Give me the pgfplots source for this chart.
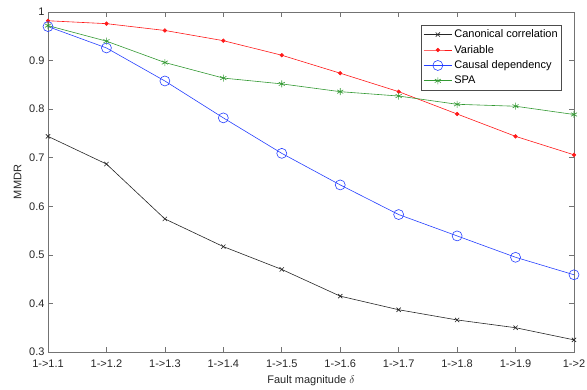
\documentclass[border=0pt]{standalone}
\usepackage{fontspec}
\setmainfont{Liberation Sans}
\usepackage{pgfplots}
\pgfplotsset{compat=1.18}
\definecolor{axgray}{gray}{0.45}
\definecolor{cgreen}{rgb}{0.2,0.6,0.2}
\definecolor{cblue}{rgb}{0.15,0.25,1}
\definecolor{cred}{rgb}{1,0.1,0.1}
\definecolor{cblack}{gray}{0.15}
\begin{document}
\begin{tikzpicture}
\useasboundingbox (-48pt,-37pt) rectangle (539pt,352pt);
\begin{axis}[
  scale only axis,
  width=526pt, height=340pt,
  at={(0,0)}, anchor=south west,
  xmin=0, xmax=9, ymin=0.3, ymax=1,
  xtick={0,...,9},
  xticklabels={1->1.1,1->1.2,1->1.3,1->1.4,1->1.5,1->1.6,1->1.7,1->1.8,1->1.9,1->2},
  ytick={0.3,0.4,0.5,0.6,0.7,0.8,0.9,1},
  yticklabels={0.3,0.4,0.5,0.6,0.7,0.8,0.9,1},
  tick align=inside,
  major tick length=5pt,
  axis line style={axgray, line width=0.6pt},
  every tick/.style={axgray, line width=0.6pt},
  tick label style={font=\fontsize{11}{13}\selectfont, text=black!85},
  xticklabel style={yshift=-4.5pt},
  label style={font=\fontsize{11}{13}\selectfont, text=black!85},
  xlabel={Fault magnitude $\delta$},
  ylabel={MMDR},
  xlabel style={yshift=-1pt},
  ylabel style={yshift=1pt},
  legend style={at={(0.9772,0.9618)}, anchor=north east, draw=black!70, line width=0.6pt,
    font=\fontsize{11}{13}\selectfont, inner xsep=2pt, inner ysep=2.5pt,
    row sep=2pt, cells={anchor=west}},
  legend image code/.code={
    \draw[mark repeat=2,mark phase=2] plot coordinates {(0cm,0cm) (0.5cm,0cm) (1cm,0cm)};
  },
]
\addplot[cblack, line width=0.6pt, mark=x, mark size=3pt, mark options={solid}] coordinates {
(0,0.744) (1,0.687) (2,0.574) (3,0.517) (4,0.470) (5,0.415) (6,0.387) (7,0.366) (8,0.350) (9,0.325)};
\addlegendentry{Canonical correlation}
\addplot[cred, line width=0.6pt, mark=*, mark size=1.8pt, mark options={solid, fill=cred}] coordinates {
(0,0.982) (1,0.976) (2,0.962) (3,0.941) (4,0.911) (5,0.874) (6,0.836) (7,0.790) (8,0.744) (9,0.706)};
\addlegendentry{Variable}
\addplot[cblue, line width=0.6pt, mark=o, mark size=5pt, mark options={solid}] coordinates {
(0,0.970) (1,0.926) (2,0.858) (3,0.782) (4,0.709) (5,0.644) (6,0.583) (7,0.539) (8,0.495) (9,0.459)};
\addlegendentry{Causal dependency}
\addplot[cgreen, line width=0.6pt, mark=asterisk, mark size=3.5pt, mark options={solid}] coordinates {
(0,0.972) (1,0.940) (2,0.896) (3,0.864) (4,0.852) (5,0.836) (6,0.827) (7,0.810) (8,0.806) (9,0.789)};
\addlegendentry{SPA}
\end{axis}
\end{tikzpicture}
\end{document}
